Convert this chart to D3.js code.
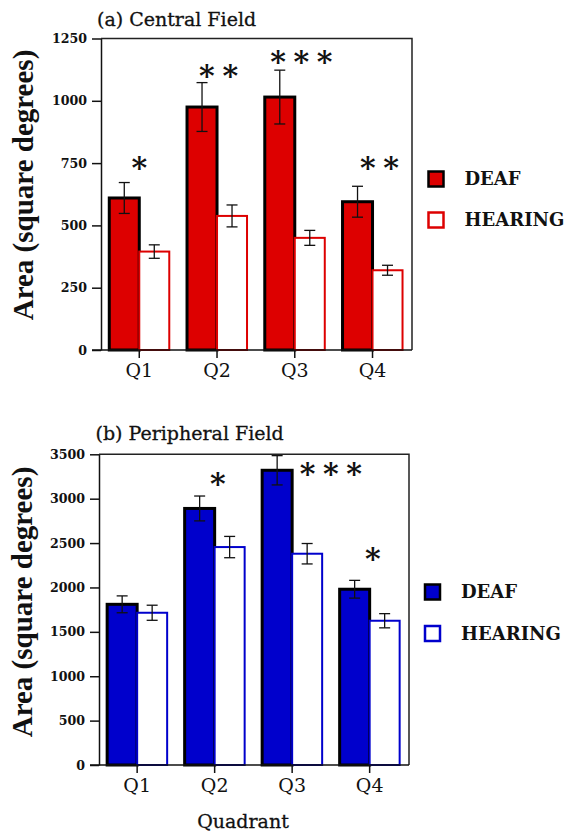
<!DOCTYPE html>
<html>
<head>
<meta charset="utf-8">
<script src="https://cdn.jsdelivr.net/npm/d3@7"></script>
<style>
  html, body { margin: 0; padding: 0; background: #fff; }
  svg { display: block; }
</style>
</head>
<body>
<div id="chart"></div>
<script>
// ---------- data ----------
const quadrants = ["Q1", "Q2", "Q3", "Q4"];
const groups = ["DEAF", "HEARING"];

const centralDeaf = [610, 975, 1015, 595];
const centralDeafErr = [62, 98, 108, 62];
const centralHearing = [395, 538, 450, 320];
const centralHearingErr = [27, 44, 30, 20];
const centralTicks = [0, 250, 500, 750, 1000, 1250];
const centralStars = [1, 2, 3, 2];
const centralStarAt = [758, 1128, 1184, 758];
const centralStarShift = [0, 0.02, 0.085, 0.09];

const peripheralDeaf = [1810, 2890, 3320, 1980];
const peripheralDeafErr = [95, 140, 165, 100];
const peripheralHearing = [1715, 2455, 2380, 1625];
const peripheralHearingErr = [85, 120, 115, 80];
const peripheralTicks = [0, 500, 1000, 1500, 2000, 2500, 3000, 3500];
const peripheralStars = [0, 1, 3, 1];
const peripheralStarAt = [0, 3238, 3359, 2393];
const peripheralStarShift = [0, 0.04, 0.5, 0.04];

// ---------- drawing ----------
const W = 565, H = 832;
const svg = d3.select("#chart").append("svg")
  .attr("width", W).attr("height", H)
  .attr("viewBox", `0 0 ${W} ${H}`);
svg.append("rect").attr("width", W).attr("height", H).attr("fill", "#fff");

const SERIF = "'DejaVu Serif', serif";
const TIMES = "'Liberation Serif', 'Times New Roman', serif";

function panel(cfg) {
  const g = svg.append("g");
  const x = d3.scaleBand().domain(quadrants).range([cfg.left, cfg.right]).padding(0);
  const y = d3.scaleLinear().domain([0, cfg.max]).range([cfg.bottom, cfg.top]);
  const bw = 30;
  const center = q => x(q) + x.bandwidth() / 2 - 0.6;

  // frame (top & right)
  g.append("path")
    .attr("d", `M${cfg.left},${cfg.top}H${cfg.right}V${cfg.bottom}`)
    .attr("fill", "none").attr("stroke", "#222").attr("stroke-width", 1.5);

  // deaf bars
  g.selectAll("rect.deaf").data(quadrants).join("rect")
    .attr("class", "deaf")
    .attr("x", q => center(q) - bw)
    .attr("width", bw)
    .attr("y", (q, i) => y(cfg.deaf[i]))
    .attr("height", (q, i) => y(0) - y(cfg.deaf[i]))
    .attr("fill", cfg.color).attr("stroke", "#000").attr("stroke-width", 3);

  // hearing bars
  g.selectAll("rect.hear").data(quadrants).join("rect")
    .attr("class", "hear")
    .attr("x", q => center(q))
    .attr("width", bw)
    .attr("y", (q, i) => y(cfg.hearing[i]))
    .attr("height", (q, i) => y(0) - y(cfg.hearing[i]))
    .attr("fill", "#fff").attr("stroke", cfg.color).attr("stroke-width", 2);

  // error bars
  const errs = [];
  quadrants.forEach((q, i) => {
    errs.push({ cx: center(q) - bw / 2, v: cfg.deaf[i], e: cfg.deafErr[i] });
    errs.push({ cx: center(q) + bw / 2, v: cfg.hearing[i], e: cfg.hearingErr[i] });
  });
  const eg = g.selectAll("g.err").data(errs).join("g").attr("class", "err")
    .attr("stroke", "#111").attr("stroke-width", 1.3);
  eg.append("line").attr("x1", d => d.cx).attr("x2", d => d.cx)
    .attr("y1", d => y(d.v - d.e)).attr("y2", d => y(d.v + d.e));
  eg.append("line").attr("x1", d => d.cx - 5.5).attr("x2", d => d.cx + 5.5)
    .attr("y1", d => y(d.v + d.e)).attr("y2", d => y(d.v + d.e));
  eg.append("line").attr("x1", d => d.cx - 5.5).attr("x2", d => d.cx + 5.5)
    .attr("y1", d => y(d.v - d.e)).attr("y2", d => y(d.v - d.e));

  // y axis
  const ya = g.append("g").attr("transform", `translate(${cfg.left},0)`)
    .call(d3.axisLeft(y).tickValues(cfg.ticks).tickSize(9).tickPadding(5).tickSizeOuter(0).tickFormat(d3.format("d")));
  ya.select(".domain").attr("stroke", "#111").attr("stroke-width", 1.5);
  ya.selectAll(".tick line").attr("stroke", "#111").attr("stroke-width", 1.5);
  ya.selectAll(".tick text").attr("font-family", SERIF).attr("font-weight", "bold")
    .attr("font-size", 12.6).attr("fill", "#111");

  // x axis
  const xa = g.append("g").attr("transform", `translate(0,${cfg.bottom})`)
    .call(d3.axisBottom(x).tickSize(8).tickPadding(6).tickSizeOuter(0));
  xa.select(".domain").attr("d", `M${cfg.left - 9},0H${cfg.right}`)
    .attr("stroke", "#111").attr("stroke-width", 1.5);
  xa.selectAll(".tick").attr("transform", q => `translate(${center(q)},0)`);
  xa.selectAll(".tick line").attr("stroke", "#111").attr("stroke-width", 1.5);
  xa.selectAll(".tick text").attr("font-family", SERIF).attr("font-size", 19)
    .attr("fill", "#111");

  // significance stars
  const fs = 30;
  quadrants.forEach((q, i) => {
    const n = cfg.stars[i];
    if (!n) return;
    const cx = center(q) + cfg.starShift[i] * x.bandwidth();
    const cy = y(cfg.starAt[i]);
    for (let k = 0; k < n; k++) {
      g.append("text")
        .attr("x", cx + (k - (n - 1) / 2) * 23.3)
        .attr("y", cy + 0.56 * fs)
        .attr("text-anchor", "middle")
        .attr("font-family", SERIF).attr("font-weight", "bold")
        .attr("font-size", fs).attr("fill", "#111")
        .text("*");
    }
  });

  // title
  g.append("text").attr("x", cfg.titleX).attr("y", cfg.titleY)
    .attr("font-family", SERIF).attr("font-size", 19).attr("fill", "#111")
    .attr("stroke", "#111").attr("stroke-width", 0.3)
    .text(cfg.title);

  // y label
  g.append("text")
    .attr("transform", `translate(${cfg.ylabX},${cfg.ylabY}) rotate(-90)`)
    .attr("text-anchor", "middle")
    .attr("font-family", TIMES).attr("font-weight", "bold").attr("font-size", 29)
    .attr("fill", "#111")
    .text("Area (square degrees)");

  // legend
  const lg = g.append("g");
  groups.forEach((name, i) => {
    const yy = cfg.legY + i * cfg.legGap;
    lg.append("rect").attr("x", cfg.legX).attr("y", yy).attr("width", 15).attr("height", 15)
      .attr("fill", i === 0 ? cfg.color : "#fff")
      .attr("stroke", i === 0 ? "#000" : cfg.color).attr("stroke-width", 2.5);
    lg.append("text").attr("x", cfg.legX + 36).attr("y", yy + 13.5)
      .attr("font-family", SERIF).attr("font-weight", "bold").attr("font-size", 18)
      .attr("fill", "#111").text(name);
  });

  return g;
}

panel({
  left: 101, right: 412, top: 38.5, bottom: 350, max: 1250,
  deaf: centralDeaf, deafErr: centralDeafErr,
  hearing: centralHearing, hearingErr: centralHearingErr,
  ticks: centralTicks, stars: centralStars, starAt: centralStarAt, starShift: centralStarShift,
  color: "#dd0000",
  title: "(a) Central Field", titleX: 97, titleY: 25.5,
  ylabX: 33, ylabY: 185,
  legX: 428.5, legY: 171.5, legGap: 41
});

panel({
  left: 99, right: 409, top: 454.3, bottom: 765, max: 3500,
  deaf: peripheralDeaf, deafErr: peripheralDeafErr,
  hearing: peripheralHearing, hearingErr: peripheralHearingErr,
  ticks: peripheralTicks, stars: peripheralStars, starAt: peripheralStarAt, starShift: peripheralStarShift,
  color: "#0000cc",
  title: "(b) Peripheral Field", titleX: 95.5, titleY: 439.5,
  ylabX: 31.7, ylabY: 602,
  legX: 425, legY: 584.5, legGap: 41.5
});

svg.append("text").attr("x", 243).attr("y", 827.5).attr("text-anchor", "middle")
  .attr("font-family", SERIF).attr("font-size", 19).attr("fill", "#111")
  .attr("stroke", "#111").attr("stroke-width", 0.3)
  .text("Quadrant");
</script>
</body>
</html>
